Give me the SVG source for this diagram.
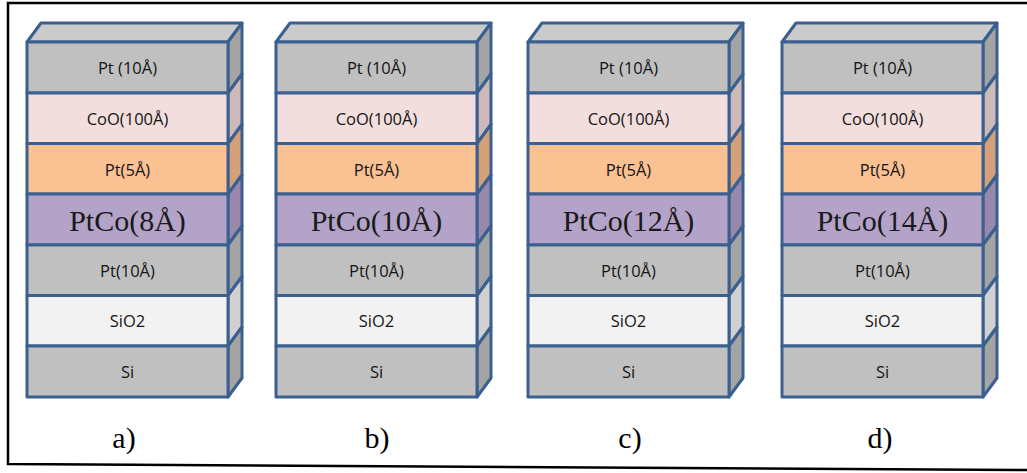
<svg xmlns="http://www.w3.org/2000/svg" width="1027" height="473" viewBox="0 0 1027 473">
<style>
.ln{stroke:#3b6090;stroke-width:3;stroke-linejoin:round}
.top{fill:#cbcbcb}
.pt{fill:#c0c0c0}.ptR{fill:#a4a4a4}
.coo{fill:#f2dedd}.cooR{fill:#cdb9b8}
.pt5{fill:#fac193}.pt5R{fill:#d4a07a}
.ptco{fill:#b3a3c8}.ptcoR{fill:#9888ac}
.sio{fill:#f2f2f2}.sioR{fill:#d0d0d0}
.s{font-family:"Open Sans","Liberation Sans",sans-serif;font-size:16.5px;fill:#151515;text-anchor:middle}
.b{font-family:"Liberation Serif","Times New Roman",serif;font-size:30px;fill:#1a1a1a;text-anchor:middle}
.lab{font-family:"Liberation Serif","Times New Roman",serif;font-size:30px;fill:#000;text-anchor:middle}
</style>
<rect width="1027" height="473" fill="#fff"/>
<path d="M1030,3 L8,3 L8,464 L1030,470" fill="none" stroke="#000" stroke-width="2.5"/>
<defs>
<g id="faces">
<polygon class="top ln" points="0,42 14,23 215,23 201,42"/>
<polygon class="ptR ln" points="201,42 215,23 215,74 201,93"/>
<polygon class="cooR ln" points="201,93 215,74 215,124.5 201,143.5"/>
<polygon class="pt5R ln" points="201,143.5 215,124.5 215,175 201,194"/>
<polygon class="ptcoR ln" points="201,194 215,175 215,226 201,245"/>
<polygon class="ptR ln" points="201,245 215,226 215,276.5 201,295.5"/>
<polygon class="sioR ln" points="201,295.5 215,276.5 215,327 201,346"/>
<polygon class="ptR ln" points="201,346 215,327 215,378 201,397"/>
<rect class="pt ln" x="0" y="42" width="201" height="51"/>
<rect class="coo ln" x="0" y="93" width="201" height="50.5"/>
<rect class="pt5 ln" x="0" y="143.5" width="201" height="50.5"/>
<rect class="ptco ln" x="0" y="194" width="201" height="51"/>
<rect class="pt ln" x="0" y="245" width="201" height="50.5"/>
<rect class="sio ln" x="0" y="295.5" width="201" height="50.5"/>
<rect class="pt ln" x="0" y="346" width="201" height="51"/>
</g>
</defs>
<g id="stack-a" transform="translate(27,0)">
<use href="#faces"/>
<text class="s" x="100.5" y="74">Pt (10Å)</text>
<text class="s" x="100.5" y="124.5">CoO(100Å)</text>
<text class="s" x="100.5" y="175.5">Pt(5Å)</text>
<text class="b" x="100.5" y="230.5">PtCo(8Å)</text>
<text class="s" x="100.5" y="276.5">Pt(10Å)</text>
<text class="s" x="100.5" y="327">SiO2</text>
<text class="s" x="100.5" y="378">Si</text>
</g>
<g id="stack-b" transform="translate(276,0)">
<use href="#faces"/>
<text class="s" x="100.5" y="74">Pt (10Å)</text>
<text class="s" x="100.5" y="124.5">CoO(100Å)</text>
<text class="s" x="100.5" y="175.5">Pt(5Å)</text>
<text class="b" x="100.5" y="230.5">PtCo(10Å)</text>
<text class="s" x="100.5" y="276.5">Pt(10Å)</text>
<text class="s" x="100.5" y="327">SiO2</text>
<text class="s" x="100.5" y="378">Si</text>
</g>
<g id="stack-c" transform="translate(528,0)">
<use href="#faces"/>
<text class="s" x="100.5" y="74">Pt (10Å)</text>
<text class="s" x="100.5" y="124.5">CoO(100Å)</text>
<text class="s" x="100.5" y="175.5">Pt(5Å)</text>
<text class="b" x="100.5" y="230.5">PtCo(12Å)</text>
<text class="s" x="100.5" y="276.5">Pt(10Å)</text>
<text class="s" x="100.5" y="327">SiO2</text>
<text class="s" x="100.5" y="378">Si</text>
</g>
<g id="stack-d" transform="translate(782,0)">
<use href="#faces"/>
<text class="s" x="100.5" y="74">Pt (10Å)</text>
<text class="s" x="100.5" y="124.5">CoO(100Å)</text>
<text class="s" x="100.5" y="175.5">Pt(5Å)</text>
<text class="b" x="100.5" y="230.5">PtCo(14Å)</text>
<text class="s" x="100.5" y="276.5">Pt(10Å)</text>
<text class="s" x="100.5" y="327">SiO2</text>
<text class="s" x="100.5" y="378">Si</text>
</g>
<g id="labels">
<text class="lab" x="124" y="448">a)</text>
<text class="lab" x="377" y="448">b)</text>
<text class="lab" x="630" y="448">c)</text>
<text class="lab" x="880" y="448">d)</text>
</g>
</svg>
